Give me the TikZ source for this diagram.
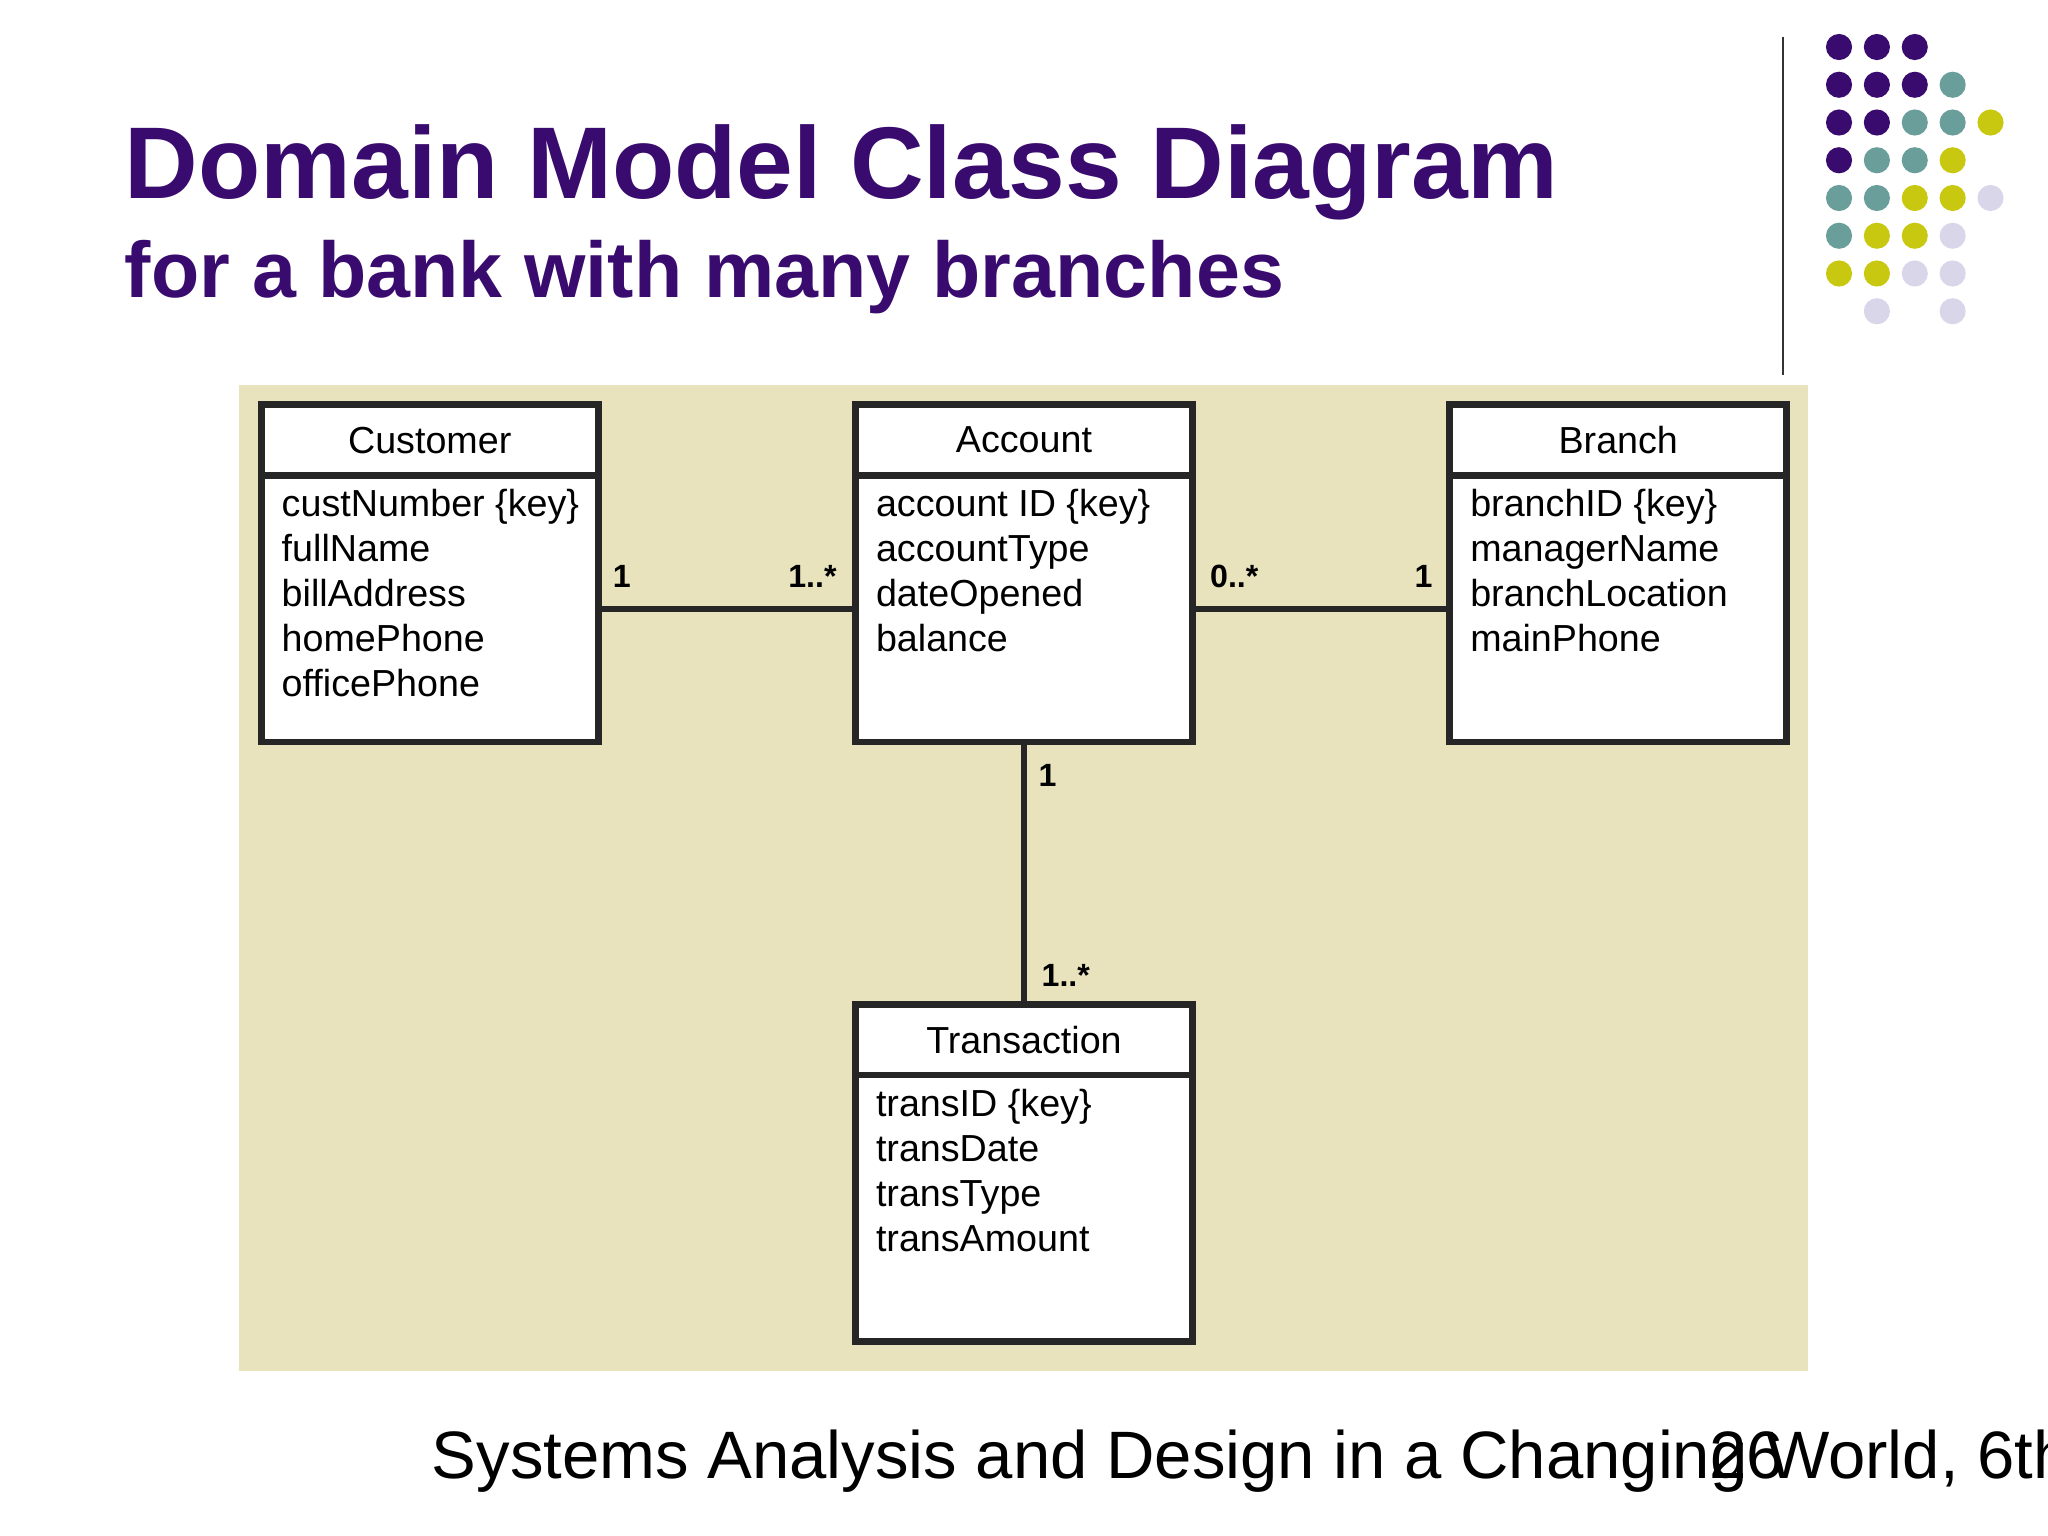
\documentclass[tikz,border=0pt]{standalone}
\usepackage{fontspec}
\setmainfont{Liberation Sans}
\usetikzlibrary{positioning}
\definecolor{titlepurple}{HTML}{3A0B6E}
\definecolor{dotteal}{HTML}{6A9E9A}
\definecolor{dotyellow}{HTML}{C8C810}
\definecolor{dotlav}{HTML}{DAD6EA}
\definecolor{panel}{HTML}{E8E3BC}
\tikzset{
  classhead/.style={draw=black!85, line width=1.5pt, fill=white, minimum width=2.58cm, minimum height=0.54cm, inner sep=0pt, font=\fontsize{8.2pt}{9pt}\selectfont},
  classbody/.style={draw=black!85, line width=1.5pt, fill=white, minimum width=2.58cm, minimum height=2.04cm, inner sep=0pt},
  attrs/.style={anchor=north west, align=left, inner sep=0pt, font=\fontsize{8.2pt}{9.8pt}\selectfont},
  assoc/.style={draw=black!85, line width=1.4pt},
  mult/.style={font=\bfseries\fontsize{7pt}{8pt}\selectfont},
  dot/.style={circle, minimum size=0.2cm, inner sep=0pt}
}
\begin{document}
\begin{tikzpicture}[x=0.01cm, y=-0.01cm]
  \useasboundingbox (0,0) rectangle (1568,1176);
  \clip (0,0) rectangle (1568,1176);
  % title
  \node[anchor=base west, inner sep=0pt, text=titlepurple, font=\bfseries\fontsize{22.2pt}{26pt}\selectfont] (title) at (95,152) {Domain Model Class Diagram};
  \node[anchor=base west, inner sep=0pt, text=titlepurple, font=\bfseries\fontsize{17.2pt}{20pt}\selectfont] (subtitle) at (95,228) {for a bank with many branches};
  \draw[black!80, line width=0.5pt] (1365,28) -- (1365,287);
  % dot grid
  \foreach \c/\x/\y in {titlepurple/0/0, titlepurple/1/0, titlepurple/2/0,
      titlepurple/0/1, titlepurple/1/1, titlepurple/2/1, dotteal/3/1,
      titlepurple/0/2, titlepurple/1/2, dotteal/2/2, dotteal/3/2, dotyellow/4/2,
      titlepurple/0/3, dotteal/1/3, dotteal/2/3, dotyellow/3/3,
      dotteal/0/4, dotteal/1/4, dotyellow/2/4, dotyellow/3/4, dotlav/4/4,
      dotteal/0/5, dotyellow/1/5, dotyellow/2/5, dotlav/3/5,
      dotyellow/0/6, dotyellow/1/6, dotlav/2/6, dotlav/3/6,
      dotlav/1/7, dotlav/3/7}
    \node[dot, fill=\c] at (1408+29*\x, 36+28.9*\y) {};
  % panel
  \fill[panel] (183,295) rectangle (1384,1050);
  % classes
  \node[classhead] (custhead) at (329,337) {Customer};
  \node[classbody, below=-1.5pt of custhead] (custbody) {};
  \node[attrs] (custattr) at (215,374) {custNumber \{key\}\\fullName\\billAddress\\homePhone\\officePhone};
  \node[classhead] (acchead) at (784,337) {Account};
  \node[classbody, below=-1.5pt of acchead] (accbody) {};
  \node[attrs] (accattr) at (670,374) {account ID \{key\}\\accountType\\dateOpened\\balance};
  \node[classhead] (branchhead) at (1239,337) {Branch};
  \node[classbody, below=-1.5pt of branchhead] (branchbody) {};
  \node[attrs] (branchattr) at (1125,374) {branchID \{key\}\\managerName\\branchLocation\\mainPhone};
  \node[classhead] (transhead) at (784,796) {Transaction};
  \node[classbody, below=-1.5pt of transhead] (transbody) {};
  \node[attrs] (transattr) at (670,833) {transID \{key\}\\transDate\\transType\\transAmount};
  % associations
  \draw[assoc] (custbody.east) -- (accbody.west);
  \draw[assoc] (accbody.east) -- (branchbody.west);
  \draw[assoc] (accbody.south) -- (transhead.north);
  \node[mult] at (476,441) {1};
  \node[mult] at (622,441) {1..*};
  \node[mult] at (945,441) {0..*};
  \node[mult] at (1090,441) {1};
  \node[mult] at (802,594) {1};
  \node[mult] at (816,747) {1..*};
  % footer
  \node[anchor=base west, inner sep=0pt, font=\fontsize{14.6pt}{17pt}\selectfont] (footer) at (330,1132) {Systems Analysis and Design in a Changing World, 6th edition};
  \node[anchor=base west, inner sep=0pt, font=\fontsize{14.6pt}{17pt}\selectfont] (pagenum) at (1308,1132) {26};
\end{tikzpicture}
\end{document}
